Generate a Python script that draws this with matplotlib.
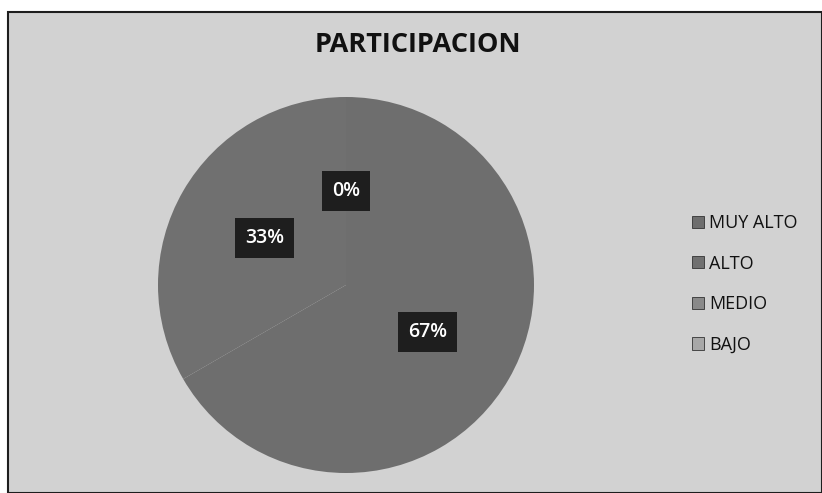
import matplotlib
matplotlib.use('Agg')
import matplotlib.pyplot as plt
from matplotlib.patches import Rectangle, Patch

# data
categorias = ['MUY ALTO', 'ALTO', 'MEDIO', 'BAJO']
valores = [2, 1, 0, 0]
colores = ['#6e6e6e', '#707070', '#8a8a8a', '#a8a8a8']

plt.rcParams['font.family'] = ['Open Sans', 'DejaVu Sans']

fig = plt.figure(figsize=(8.22, 4.93), dpi=100)
fig.patch.set_facecolor('white')

# chart area background + border (scan shows light gray fill)
fig.patches.append(Rectangle((8/822, 0), 1 - 8/822, 1 - 12/493, transform=fig.transFigure,
                             facecolor='#d2d2d2', edgecolor='#1e1e1e', linewidth=1.5, zorder=-5))

# pie axes, placed so the disc sits where it is in the scan
cx, cy, r = 346, 285, 188
ax = fig.add_axes([(cx - r) / 822, (493 - cy - r) / 493, 2 * r / 822, 2 * r / 493])
ax.set_facecolor('none')
ax.set_zorder(2)

wedges, textos, autotextos = ax.pie(valores, colors=colores, startangle=90, counterclock=False,
                                    autopct='%.0f%%', pctdistance=0.5, radius=1,
                                    wedgeprops=dict(linewidth=0))
# the two 0% labels sit on top of each other, keep just one
autotextos[-1].set_visible(False)
for t in autotextos:
    t.set_color('white')
    t.set_fontsize(14)
    t.set_fontweight('semibold')
    t.set_bbox(dict(facecolor='#1e1e1e', edgecolor='none', pad=7))
ax.set_xlim(-1, 1)
ax.set_ylim(-1, 1)
ax.set_aspect('equal')

fig.text(418 / 822, 1 - 45 / 493, 'PARTICIPACION', ha='center', va='center',
         fontsize=19.5, fontweight='bold', color='#111111')

# legend
manijas = [Patch(facecolor=c, edgecolor='#333333', linewidth=0.6) for c in colores]
fig.legend(manijas, categorias, loc='center left', bbox_to_anchor=(676 / 822, 1 - 284 / 493),
           frameon=False, fontsize=13, handlelength=0.65, handleheight=0.65,
           handletextpad=0.3, labelspacing=1.25, labelcolor='#111111')

fig.savefig('out.png', dpi=100, facecolor=fig.get_facecolor())
